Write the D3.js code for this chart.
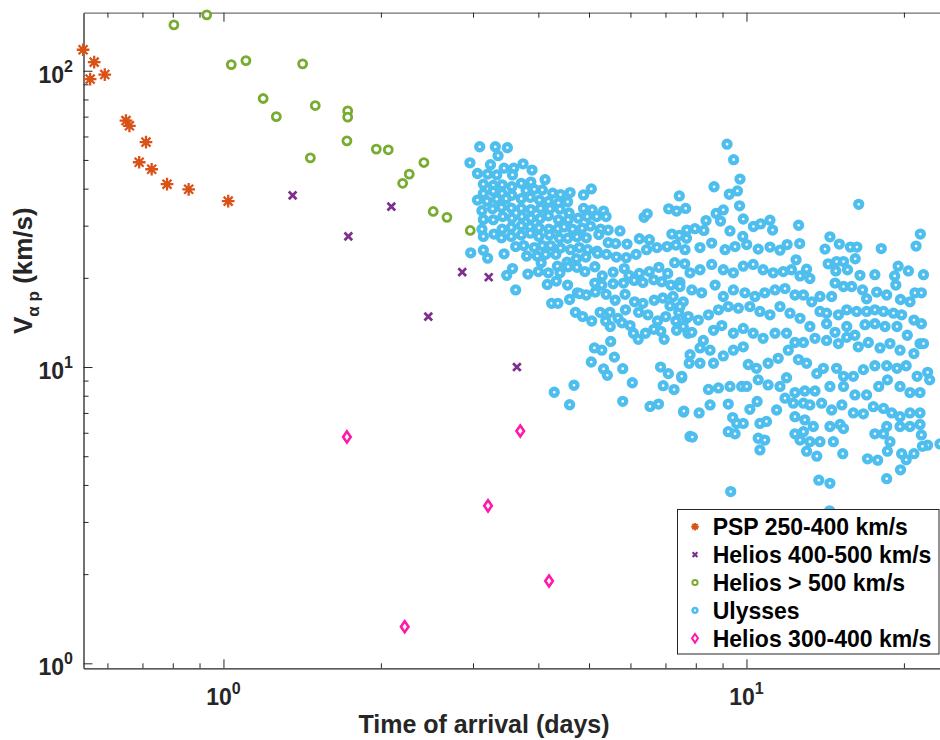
<!DOCTYPE html>
<html><head><meta charset="utf-8">
<script src="https://cdn.jsdelivr.net/npm/d3@7/dist/d3.min.js"></script>
<style>body{margin:0;background:#fff;} svg{display:block;font-family:"Liberation Sans",Arial,Helvetica,sans-serif;}</style>
</head><body><svg id="chart" width="940" height="740"></svg>
<script>
// ---------------- data ----------------
const pspDays = [0.539,0.566,0.556,0.593,0.651,0.661,0.711,0.690,0.729,0.780,0.858,1.021];
const pspV    = [117.7,106.9,93.7,97.1,67.9,65.2,57.4,49.1,46.5,41.4,39.8,36.3];

const helios45Days = [1.356,1.733,2.094,2.861,3.215,2.464,3.640];
const helios45V    = [37.96,27.6,34.8,20.9,20.1,14.8,10.0];

const helios5Days = [0.804,0.929,1.035,1.104,1.417,1.191,1.262,1.498,1.466,1.728,1.728,1.722,1.960,2.066,2.417,2.266,2.201,2.518,2.675,2.964];
const helios5V    = [142.8,154.4,104.9,108.2,105.5,80.6,70.0,76.3,50.8,73.2,69.7,58.0,54.4,54.1,49.0,44.8,41.7,33.5,32.0,28.9];

const helios34Days = [1.722,3.694,3.205,4.193,2.221];
const helios34V    = [5.81,6.08,3.40,1.896,1.329];

// Ulysses: [days, km/s]
const ulysses = [
[3.09,55.4],[3.31,55.4],[3.49,55.0],[3.35,51.7],[2.96,48.9],[3.24,48.2],[3.74,48.5],[3.06,45.0],[3.20,44.8],[3.44,46.9],[3.59,46.9],[3.33,44.5],[3.57,44.5],[3.89,46.2],[4.12,42.9],
[3.14,41.4],[3.28,41.0],[3.41,41.2],[3.56,40.6],[3.71,41.7],[3.87,42.1],[3.14,38.5],[3.28,39.2],[3.41,38.5],[3.56,38.0],[3.79,39.4],[3.93,39.8],[4.07,39.6],[4.26,38.6],[4.41,38.2],[4.60,38.8],[4.88,38.1],[5.05,39.9],
[3.06,36.6],[3.19,36.3],[3.33,36.9],[3.47,37.0],[3.71,37.0],[3.86,37.4],[4.02,36.6],[4.18,36.2],[4.37,35.8],[4.55,36.1],
[3.12,33.7],[3.27,34.2],[3.40,34.6],[3.55,34.4],[3.71,34.3],[3.87,34.0],[4.04,34.3],[4.21,34.2],[4.40,34.1],[4.58,33.1],[4.88,34.3],[5.07,33.9],[5.33,33.6],[5.39,32.2],[5.17,32.2],[4.96,32.2],[4.77,31.8],
[3.14,31.5],[3.28,31.4],[3.42,32.2],[3.56,31.8],[3.72,32.2],[3.87,31.8],[4.03,31.7],[4.18,32.4],[4.37,31.4],[4.56,31.4],[4.65,29.2],[4.85,29.4],[5.03,29.9],[5.26,29.2],[5.44,29.0],[5.73,28.8],
[3.12,29.2],[3.29,28.1],[3.41,29.2],[3.55,29.6],[3.71,30.0],[3.855,29.7],[4.01,29.5],[4.19,29.2],[4.36,29.3],[4.48,29.7],
[3.14,27.6],[3.40,27.3],[3.55,27.6],[3.71,27.9],[3.86,28.3],[4.01,27.6],[4.20,27.9],[4.39,27.2],[4.55,27.2],[4.74,27.5],[4.94,27.3],[5.22,28.0],[5.44,26.3],[5.62,26.1],[5.91,26.0],[6.24,27.1],[6.52,26.9],
[3.62,25.5],[3.75,25.7],[3.93,25.3],[4.07,25.7],[4.22,25.7],[4.41,25.2],[4.61,24.9],[4.79,25.3],[4.97,24.9],[5.18,24.6],
[2.97,24.3],[3.14,24.8],[3.20,23.3],[3.44,24.1],[3.80,23.7],[3.98,23.7],[4.13,24.0],[4.32,24.0],[4.54,22.6],[4.73,23.2],[4.93,23.5],[5.19,24.2],[5.40,24.0],[5.64,23.5],[5.89,23.4],[6.15,24.0],[6.44,24.9],[6.74,25.3],[7.05,25.5],[7.33,25.8],
[3.48,20.4],[3.57,21.5],[3.82,20.6],[4.00,21.0],[4.05,22.5],[4.18,20.8],[4.35,21.9],[4.40,20.8],[4.56,21.8],[4.74,21.7],[4.91,21.0],[5.13,21.8],[5.30,20.3],[5.56,20.9],[5.84,21.5],[5.96,20.4],[6.24,20.7],[6.52,21.0],[6.80,21.7],[7.07,20.7],[7.29,22.5],[7.62,22.3],
[3.62,18.2],[4.16,19.0],[4.33,19.5],[4.55,18.9],[4.75,17.8],[4.94,17.5],[5.13,19.2],[5.29,18.9],[5.56,19.1],[5.82,19.2],[6.10,19.6],[6.34,19.3],[6.65,19.7],[6.89,19.4],[7.17,18.9],[7.46,19.3],
[4.24,16.4],[4.36,16.4],[4.59,16.9],[4.80,17.7],[5.14,17.9],[5.39,17.6],[5.61,16.8],[5.86,17.6],[6.11,16.6],[6.34,16.4],[6.66,16.8],[6.92,17.1],[7.24,17.3],[7.57,16.6],
[4.71,15.3],[4.86,14.8],[5.06,14.3],[5.25,15.3],[5.38,14.3],[5.49,13.7],[5.68,14.6],[5.78,14.1],[5.99,13.8],[6.22,15.3],[6.48,15.0],[6.76,14.3],[7.01,14.8],[7.33,14.3],[7.42,15.3],[7.68,14.6],
[5.48,15.3],[5.87,15.6],[6.41,13.0],[7.14,16.1],
[6.08,13.0],[6.21,12.4],[6.65,13.4],[6.86,13.2],[6.96,12.4],[7.35,13.3],[7.73,13.0],
[5.50,12.2],[5.12,11.6],[5.29,11.4],[5.59,10.8],[5.05,10.4],[5.33,9.85],[5.42,9.38],[5.80,9.87],[6.05,8.85],[6.85,10.0],[7.09,9.50],[6.93,8.65],[7.27,8.39],[7.52,9.20],[7.77,10.3],
[4.29,8.22],[4.68,8.68],[4.59,7.46],[5.80,7.66],[6.54,7.36],[6.79,7.50],[7.58,7.05],[7.80,5.83],
[6.37,32.0],[6.46,32.9],[7.10,34.2],[7.44,37.8],[7.65,34.3],[7.35,33.6],[7.20,28.1],[7.44,27.8],[7.69,29.0],
[9.18,56.5],[9.45,50.1],[9.72,43.1],[8.67,40.6],[9.27,38.3],[9.61,39.3],[9.70,35.0],[9.86,31.6],[16.39,35.4],
[8.75,33.0],[9.03,33.9],[8.92,31.1],[8.37,31.2],[9.30,28.8],[9.84,27.6],[10.31,29.8],[10.64,30.4],[11.09,31.3],[11.22,29.0],[12.58,30.1],[12.64,26.1],[14.44,27.5],[15.05,26.0],[14.13,25.0],[15.8,25.4],[16.26,25.4],[18.1,25.1],[21.5,28.1],[21.1,25.6],
[7.68,27.2],[7.97,29.3],[8.29,28.9],[7.63,24.9],[8.15,25.3],[8.58,26.2],[9.10,24.9],[9.51,25.5],[10.01,25.9],[10.53,25.0],[11.09,25.4],[11.59,24.8],[11.96,25.9],[12.44,23.0],[13.03,21.4],[14.33,22.3],[14.87,22.7],[15.33,22.7],[16.14,23.2],[14.82,21.1],[15.6,21.3],[16.48,20.4],[17.6,20.5],[19.5,21.9],[20.4,21.1],[21.8,20.5],[19.2,20.3],[19.3,18.9],
[7.80,20.8],[8.15,21.3],[8.58,22.2],[9.03,21.3],[9.44,20.8],[9.86,21.9],[10.30,22.2],[10.76,21.3],[11.25,20.8],[11.76,21.0],[12.19,21.3],[12.66,20.3],[13.22,19.9],[13.82,17.3],[14.55,17.3],[14.77,19.2],[15.33,18.7],[15.89,18.7],[16.67,18.2],[16.97,17.0],[17.74,17.9],[18.54,17.5],[19.7,16.9],[20.54,16.6],[21.0,17.8],[21.6,17.8],
[7.46,18.7],[7.86,18.2],[8.21,17.8],[8.71,18.9],[9.03,17.3],[9.44,18.2],[9.93,17.8],[10.38,17.3],[10.84,17.8],[11.34,18.2],[11.85,18.4],[12.38,17.5],[12.85,17.5],[13.33,16.6],[13.82,15.4],[14.23,15.2],[14.99,15.0],[15.55,15.6],[16.24,15.4],[16.97,15.4],[17.6,15.6],[18.28,15.4],[19.1,15.2],[19.8,15.0],[20.9,14.4],[21.6,14.0],
[7.46,16.0],[7.74,14.8],[8.09,14.4],[8.46,15.0],[8.84,15.6],[9.23,16.0],[9.65,15.8],[10.15,16.0],[10.61,15.4],[11.09,15.0],[11.59,16.0],[12.11,15.2],[12.66,14.6],[13.22,13.7],[14.23,14.0],[14.77,13.1],[15.55,13.7],[16.12,12.8],[16.85,13.9],[17.6,14.0],[18.4,13.7],[19.4,13.7],[20.3,12.8],[21.47,12.0],
[7.57,13.7],[7.86,13.1],[8.27,12.3],[8.65,13.3],[8.97,13.8],[9.44,13.0],[9.86,13.5],[10.30,13.0],[10.76,12.5],[11.34,13.0],[11.93,13.0],[12.38,12.1],[12.85,12.1],[13.52,12.5],[14.23,12.3],[14.99,12.0],[15.55,12.6],[16.36,11.7],[17.1,12.1],[18.0,11.6],[18.81,12.0],[19.66,11.4],[20.9,11.1],[21.8,12.0],
[7.80,11.0],[8.15,10.3],[8.52,11.4],[8.65,10.3],[9.03,10.9],[9.44,11.4],[9.86,11.7],[10.08,10.2],[10.45,9.9],[11.0,10.3],[11.5,10.7],[12.02,11.4],[12.57,10.6],[13.03,10.3],[13.63,9.5],[14.03,9.9],[14.44,8.6],[14.87,9.9],[15.33,9.3],[16.01,9.3],[16.73,9.8],[17.6,10.1],[18.54,10.1],[19.4,9.9],[20.2,10.1],[21.2,9.3],[22.2,9.6],[22.4,9.05],
[7.52,9.3],[8.15,11.6],[8.46,8.4],[8.84,8.5],[9.30,8.6],[9.79,8.6],[10.01,8.6],[10.53,9.05],[11.0,8.7],[11.59,8.6],[11.93,9.2],[12.38,8.2],[12.93,8.3],[13.52,8.3],[15.33,8.6],[16.12,8.05],[16.97,8.05],[17.9,8.6],[18.6,9.05],[19.66,8.6],[20.54,8.2],[21.47,8.2],
[7.59,7.1],[8.12,7.0],[8.52,7.45],[9.23,7.5],[10.15,7.2],[10.48,7.65],[11.42,7.16],[11.85,7.85],[12.29,7.55],[12.85,7.55],[13.22,7.45],[13.92,7.55],[14.55,7.16],[15.22,7.45],[16.01,7.0],[16.73,6.95],[17.48,7.35],[18.28,7.25],[18.95,7.0],[19.66,6.8],[20.54,7.0],[21.47,7.0],
[9.41,6.75],[9.58,6.45],[9.86,6.45],[9.23,6.05],[9.51,5.95],[10.61,6.45],[10.92,6.55],[12.38,6.8],[12.93,6.63],[13.42,6.3],[12.38,5.95],[12.85,6.05],[14.44,6.3],[15.10,6.4],[15.33,6.2],[18.54,6.3],[19.66,6.3],[20.54,6.3],[21.47,6.4],[17.6,5.95],[18.28,5.95],[18.81,5.6],[21.6,5.9],[22.2,5.45],[23.44,5.5],
[7.88,5.8],[10.53,5.75],[10.84,5.67],[10.61,5.25],[12.66,5.67],[13.22,5.6],[13.82,5.6],[14.66,5.6],[13.03,5.2],[13.63,5.0],[15.28,5.1],[17.04,4.9],[17.82,4.85],[18.6,5.2],[19.8,5.1],[20.2,4.86],[20.9,5.1],[21.7,5.4],[19.7,4.5],[18.54,4.2],[13.75,4.15],[14.44,4.05],[9.33,3.8],
[14.42,3.27]
];

const xMajorTicks = [1, 10];
const xMinorTicks = [0.6,0.7,0.8,0.9,2,3,4,5,6,7,8,9,20];
const yMajorTicks = [1, 10, 100];
const yMinorTicks = [2,3,4,5,6,7,8,9,20,30,40,50,60,70,80,90];
const xLabel = "Time of arrival (days)";
const legendLabels = ["PSP 250-400 km/s","Helios 400-500 km/s","Helios > 500 km/s","Ulysses","Helios 300-400 km/s"];

// ---------------- drawing ----------------
const svg = d3.select("#chart");
const L = 83.5, R = 954.6, T = 12.7, B = 668.3;
const x = d3.scaleLog().domain([0.54, 25]).range([L, R]);
const y = d3.scaleLog().domain([0.962, 157]).range([B, T]);
const axisColor = "#262626";

const shapes = {
  asterisk: s => { const a = s*0.7071; return `M${-s},0L${s},0M0,${-s}L0,${s}M${-a},${-a}L${a},${a}M${-a},${a}L${a},${-a}`; },
  cross: s => `M${-s},${-s}L${s},${s}M${-s},${s}L${s},${-s}`,
  circle: s => `M${s},0A${s},${s} 0 1,1 ${-s},0A${s},${s} 0 1,1 ${s},0Z`,
  diamond: s => `M0,${-s*1.45}L${s},0L0,${s*1.45}L${-s},0Z`
};

const series = [
  {name: legendLabels[0], pts: pspDays.map((d,i)=>[d,pspV[i]]), shape:"asterisk", color:"#D95319", s:5.2, sw:2.3, ls:3.8, lsw:1.9},
  {name: legendLabels[1], pts: helios45Days.map((d,i)=>[d,helios45V[i]]), shape:"cross", color:"#7E2F8E", s:2.9, sw:2.7, ls:2.4, lsw:2.2},
  {name: legendLabels[2], pts: helios5Days.map((d,i)=>[d,helios5V[i]]), shape:"circle", color:"#77AC30", s:4.0, sw:2.8, ls:2.6, lsw:2.0},
  {name: legendLabels[3], pts: ulysses, shape:"circle", color:"#4DBEEE", s:3.5, sw:4.3, ls:2.4, lsw:2.6},
  {name: legendLabels[4], pts: helios34Days.map((d,i)=>[d,helios34V[i]]), shape:"diamond", color:"#FF19A8", s:3.8, sw:2.6, ls:3.0, lsw:2.0}
];
const drawOrder = [0,1,2,3,4];

// axes (ticks inward)
function addAxis(gen, tx, ty, ticks, size, domainColor) {
  const g = svg.append("g").attr("transform", `translate(${tx},${ty})`)
    .call(gen.tickValues(ticks).tickSize(size).tickSizeOuter(0).tickFormat(""));
  g.selectAll(".tick line").attr("stroke", axisColor).attr("stroke-width", 1);
  g.select(".domain").attr("stroke", domainColor || "none").attr("stroke-width", 1.3);
  return g;
}
addAxis(d3.axisBottom(x), 0, B, xMajorTicks, -9, axisColor);
addAxis(d3.axisBottom(x), 0, B, xMinorTicks, -5);
addAxis(d3.axisTop(x), 0, T, xMajorTicks, -9, "#707070");
addAxis(d3.axisTop(x), 0, T, xMinorTicks, -5);
addAxis(d3.axisLeft(y), L, 0, yMajorTicks, -9, axisColor);
addAxis(d3.axisLeft(y), L, 0, yMinorTicks, -5);
addAxis(d3.axisRight(y), R, 0, yMajorTicks, -9, axisColor);

// tick labels 10^n
xMajorTicks.forEach(v => {
  const t = svg.append("text").attr("x", x(v)).attr("y", 705).attr("text-anchor","middle")
    .attr("font-size", 23).attr("font-weight","bold").attr("fill", axisColor);
  t.append("tspan").text("10");
  t.append("tspan").attr("dy", -11).attr("font-size", 16).text(Math.round(Math.log10(v)));
});
yMajorTicks.forEach(v => {
  const t = svg.append("text").attr("x", 73).attr("y", y(v) + 12).attr("text-anchor","end")
    .attr("font-size", 23).attr("font-weight","bold").attr("fill", axisColor);
  t.append("tspan").text("10");
  t.append("tspan").attr("dy", -11).attr("font-size", 16).text(Math.round(Math.log10(v)));
});

// axis labels
svg.append("text").attr("x", 484).attr("y", 733).attr("text-anchor","middle")
  .attr("font-size", 25).attr("font-weight","bold").attr("fill", axisColor).text(xLabel);
const yl = svg.append("text").attr("transform","translate(32,334) rotate(-90)")
  .attr("font-size", 26).attr("font-weight","bold").attr("fill", axisColor);
yl.append("tspan").text("V");
yl.append("tspan").attr("dy", 7).attr("font-size", 17).text("\u03B1 p");
yl.append("tspan").attr("dy", -7).text(" (km/s)");

// markers
drawOrder.forEach(i => {
  const s = series[i];
  svg.append("g").selectAll("path").data(s.pts).join("path")
    .attr("transform", d => `translate(${x(d[0])},${y(d[1])})`)
    .attr("d", shapes[s.shape](s.s))
    .attr("fill", s.shape === "asterisk" || s.shape === "cross" ? "none" : "#fff")
    .attr("stroke", s.color).attr("stroke-width", s.sw).attr("stroke-linecap","square");
});

// legend
const lg = svg.append("g");
lg.append("rect").attr("x", 677.5).attr("y", 509.5).attr("width", 261.5).attr("height", 144.5)
  .attr("fill", "#fff").attr("stroke", axisColor).attr("stroke-width", 1);
series.forEach((s, i) => {
  const cy = 526.7 + i * 27.9;
  lg.append("path").attr("transform", `translate(695,${cy})`).attr("d", shapes[s.shape](s.ls))
    .attr("fill", s.shape === "asterisk" || s.shape === "cross" ? "none" : "#fff")
    .attr("stroke", s.color).attr("stroke-width", s.lsw);
  lg.append("text").attr("x", 712.7).attr("y", cy + 8.2).attr("font-size", 23).attr("font-weight","bold")
    .attr("fill", "#000").text(s.name);
});
</script></body></html>
